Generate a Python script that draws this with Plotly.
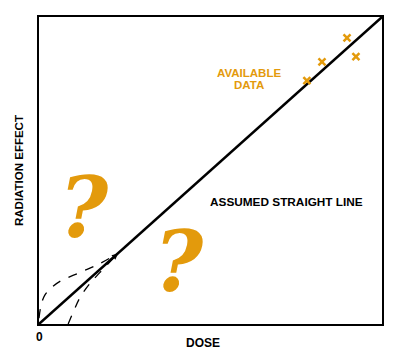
import plotly.graph_objects as go

ORANGE = "#E39A0C"

# assumed straight line
line_x = [0, 10]
line_y = [0, 10]

# available data points
data_x = [7.81, 8.25, 8.98, 9.24]
data_y = [7.93, 8.54, 9.32, 8.71]

# alternative (dashed) low-dose curves
upper_x = [0.0, 0.06, 0.17, 0.38, 0.61, 1.20, 1.78, 2.30]
upper_y = [0.19, 0.61, 0.94, 1.20, 1.39, 1.68, 1.97, 2.30]
lower_x = [0.85, 1.02, 1.20, 1.49, 1.78, 2.30]
lower_y = [0.0, 0.45, 0.87, 1.33, 1.68, 2.30]

fig = go.Figure()
fig.add_trace(go.Scatter(x=upper_x, y=upper_y, mode="lines", line=dict(color="black", width=1.3, dash="dash", shape="spline"), hoverinfo="skip"))
fig.add_trace(go.Scatter(x=lower_x, y=lower_y, mode="lines", line=dict(color="black", width=1.3, dash="dash", shape="spline"), hoverinfo="skip"))
fig.add_trace(go.Scatter(x=line_x, y=line_y, mode="lines", line=dict(color="black", width=2.5), hoverinfo="skip"))
fig.add_trace(go.Scatter(x=data_x, y=data_y, mode="markers",
                         marker=dict(symbol="x-thin-open", size=7, color=ORANGE, line=dict(color=ORANGE, width=2.5))))

# arrowhead where curves meet
fig.add_annotation(x=2.30, y=2.30, ax=2.05, ay=2.05, xref="x", yref="y", axref="x", ayref="y",
                   showarrow=True, arrowhead=2, arrowsize=0.6, arrowwidth=2, arrowcolor="black", text="")

font = "Liberation Sans, Arial, sans-serif"
qfont = dict(family="DejaVu Serif, serif", size=84, color=ORANGE)
fig.add_annotation(x=6.12, y=8.19, xref="x", yref="y", text="<b>AVAILABLE</b>", showarrow=False,
                   font=dict(family=font, size=11.5, color=ORANGE))
fig.add_annotation(x=6.12, y=7.77, xref="x", yref="y", text="<b>DATA</b>", showarrow=False,
                   font=dict(family=font, size=11.5, color=ORANGE))
fig.add_annotation(x=7.23, y=3.98, xref="x", yref="y", text="<b>ASSUMED STRAIGHT LINE</b>", showarrow=False,
                   font=dict(family=font, size=11.8, color="black"))
fig.add_annotation(x=1.30, y=3.80, xref="x", yref="y", text="<b><i>?</i></b>", showarrow=False, font=qfont)
fig.add_annotation(x=4.08, y=2.05, xref="x", yref="y", text="<b><i>?</i></b>", showarrow=False, font=qfont)

fig.add_annotation(x=19, y=170, text="<b>RADIATION EFFECT</b>", showarrow=False,
                   textangle=-90, font=dict(family=font, size=11.5, color="black"))
fig.add_annotation(x=203, y=343, text="<b>DOSE</b>", showarrow=False, font=dict(family=font, size=12, color="black"))
fig.add_annotation(x=39, y=337, text="<b>0</b>", showarrow=False, font=dict(family=font, size=12, color="black"))

# page body has an 8px margin; compensate so the plot frame lands at the reference pixels
OFF = 8
W, H = 400 - OFF, 358 - OFF
L, R, T, B = 39 - OFF, 18, 15 - OFF, 34
pw, ph = W - L - R, H - T - B
for a in fig.layout.annotations[-3:]:
    px, py = a.x - OFF, a.y - OFF
    a.xref = "paper"; a.yref = "paper"
    a.xanchor = "center"; a.yanchor = "middle"
    a.x = (px - L) / pw
    a.y = (H - B - py) / ph

fig.update_xaxes(range=[0, 10], showline=True, mirror=True, linecolor="black", linewidth=2,
                 showgrid=False, zeroline=False, showticklabels=False, ticks="")
fig.update_yaxes(range=[0, 10], showline=True, mirror=True, linecolor="black", linewidth=2,
                 showgrid=False, zeroline=False, showticklabels=False, ticks="")
fig.update_layout(width=W, height=H, margin=dict(l=L, r=R, t=T, b=B), showlegend=False,
                  plot_bgcolor="white", paper_bgcolor="white")
fig.write_html("out.html")
